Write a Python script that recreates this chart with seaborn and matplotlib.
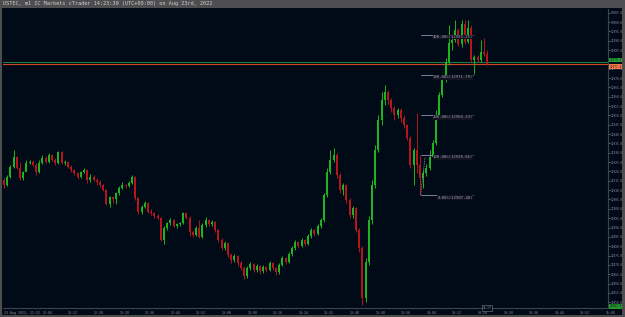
import numpy as np
import pandas as pd
import matplotlib
matplotlib.use("Agg")
import matplotlib.pyplot as plt
from matplotlib.patches import Rectangle
import seaborn as sns

# ---------------- data (USTEC m1 candles) ----------------
first_open = 12915.4
closes = [12912.8, 12917.0, 12922.4, 12927.8, 12921.9, 12916.5, 12919.7, 12924.5, 12925.1, 12923.5,
          12919.7, 12924.5, 12927.2, 12925.1, 12928.8, 12926.2, 12924.5, 12930.4, 12924.5, 12925.1,
          12922.4, 12920.8, 12919.2, 12917.0, 12919.7, 12920.8, 12915.4, 12917.0, 12915.4, 12914.4,
          12912.8, 12910.1, 12902.6, 12906.3, 12905.3, 12908.5, 12911.2, 12912.8, 12912.2, 12913.8,
          12917.0, 12905.8, 12898.3, 12901.0, 12903.1, 12898.3, 12897.8, 12896.2, 12895.1, 12883.3,
          12889.8, 12892.4, 12894.0, 12890.8, 12891.9, 12892.4, 12897.8, 12895.1, 12887.6, 12886.0,
          12889.8, 12884.9, 12891.4, 12894.0, 12891.9, 12893.0, 12888.7, 12883.3, 12879.0, 12881.7,
          12875.3, 12872.6, 12874.8, 12871.0, 12868.3, 12864.1, 12868.3, 12870.5, 12867.3, 12869.4,
          12866.7, 12868.9, 12867.3, 12871.0, 12868.3, 12866.2, 12869.9, 12873.7, 12871.6, 12875.8,
          12879.0, 12882.3, 12880.1, 12883.3, 12881.2, 12885.5, 12888.7, 12886.5, 12890.8, 12894.0,
          12907.4, 12919.7, 12926.2, 12928.8, 12918.1, 12910.1, 12912.8, 12904.7, 12896.7, 12900.5,
          12888.7, 12879.0, 12852.3, 12871.6, 12894.0, 12912.8, 12931.5, 12947.6, 12958.3, 12962.6,
          12958.3, 12954.0, 12950.2, 12952.9, 12948.6, 12944.9, 12937.9, 12923.5, 12931.5, 12923.5,
          12916.5, 12919.2, 12921.9, 12927.8, 12935.2, 12950.2, 12961.0, 12969.0, 12978.6, 12988.8,
          12990.4, 12995.7, 12988.2, 12999.0, 12989.3, 12996.8, 12979.7, 12981.3, 12979.7, 12984.0,
          12982.9, 12977.5]
highs = [12916.5, 12918.1, 12923.5, 12931.5, 12928.3, 12925.1, 12920.3, 12926.2, 12926.2, 12926.2,
         12924.5, 12926.2, 12928.8, 12928.3, 12929.9, 12929.4, 12927.2, 12931.0, 12931.0, 12926.2,
         12925.6, 12923.5, 12921.3, 12919.7, 12920.3, 12921.9, 12921.3, 12918.7, 12918.1, 12916.5,
         12915.4, 12913.3, 12910.6, 12906.9, 12906.9, 12909.0, 12912.2, 12914.4, 12913.3, 12914.9,
         12918.1, 12917.6, 12906.3, 12902.1, 12904.2, 12903.7, 12899.9, 12898.3, 12897.2, 12895.6,
         12890.8, 12893.0, 12895.1, 12894.6, 12892.4, 12893.0, 12898.3, 12898.3, 12896.2, 12888.7,
         12890.8, 12894.0, 12892.4, 12895.6, 12894.6, 12894.0, 12893.5, 12889.2, 12884.4, 12882.8,
         12882.3, 12876.4, 12875.8, 12875.3, 12872.1, 12869.4, 12869.4, 12871.6, 12871.0, 12870.5,
         12869.9, 12869.9, 12869.4, 12872.1, 12871.6, 12868.9, 12871.0, 12874.8, 12874.2, 12876.9,
         12880.1, 12883.3, 12882.8, 12884.4, 12883.9, 12886.5, 12889.8, 12889.2, 12891.9, 12895.1,
         12908.5, 12921.9, 12931.5, 12932.6, 12929.9, 12919.2, 12913.8, 12913.3, 12905.8, 12901.5,
         12901.0, 12889.8, 12880.1, 12873.7, 12896.2, 12915.4, 12934.2, 12950.2, 12962.6, 12966.3,
         12963.6, 12959.3, 12955.1, 12954.0, 12954.0, 12950.2, 12945.4, 12939.0, 12932.6, 12951.3,
         12928.8, 12920.8, 12924.0, 12931.5, 12936.9, 12952.9, 12962.6, 12971.1, 12980.8, 12998.4,
         12991.5, 13001.1, 12996.8, 13001.1, 13001.1, 13001.1, 12998.4, 12982.4, 12982.4, 12990.4,
         12991.5, 12985.0]
lows = [12911.2, 12912.2, 12916.5, 12921.9, 12921.3, 12915.4, 12915.4, 12920.3, 12924.0, 12922.9,
        12918.1, 12919.2, 12924.0, 12924.5, 12924.5, 12925.6, 12923.5, 12924.0, 12924.0, 12923.5,
        12921.9, 12919.7, 12918.1, 12916.0, 12916.5, 12919.2, 12913.8, 12914.4, 12914.9, 12912.8,
        12911.7, 12909.6, 12902.1, 12901.0, 12903.1, 12902.6, 12907.4, 12910.6, 12911.2, 12911.7,
        12913.3, 12904.7, 12897.2, 12897.2, 12900.5, 12897.8, 12896.7, 12895.1, 12894.6, 12882.8,
        12881.2, 12888.7, 12891.4, 12890.3, 12889.8, 12890.8, 12891.9, 12894.6, 12885.5, 12884.9,
        12885.5, 12884.4, 12884.4, 12890.3, 12890.8, 12890.8, 12887.6, 12882.3, 12878.0, 12878.0,
        12874.2, 12871.0, 12871.6, 12869.4, 12867.3, 12862.5, 12863.0, 12867.3, 12866.2, 12866.2,
        12865.1, 12865.7, 12866.2, 12866.7, 12867.3, 12864.6, 12865.1, 12869.4, 12870.5, 12871.0,
        12874.8, 12878.0, 12879.0, 12879.6, 12880.1, 12880.7, 12884.4, 12885.5, 12886.0, 12889.8,
        12893.0, 12906.3, 12918.7, 12925.1, 12916.5, 12908.5, 12907.4, 12903.1, 12895.1, 12895.1,
        12887.6, 12876.9, 12848.5, 12850.1, 12870.0, 12891.9, 12911.2, 12930.4, 12944.9, 12955.6,
        12956.1, 12951.9, 12947.6, 12948.6, 12946.5, 12943.3, 12936.9, 12921.9, 12912.8, 12919.2,
        12907.4, 12911.2, 12917.6, 12920.8, 12927.2, 12934.2, 12948.6, 12959.9, 12967.9, 12977.0,
        12985.0, 12989.3, 12987.2, 12986.6, 12988.2, 12988.8, 12978.6, 12972.2, 12978.6, 12978.6,
        12981.8, 12977.0]

fib_pcts = ["0.00%", "100.00%", "200.00%", "300.00%", "400.00%"]
fib_prices = [12907.40, 12928.86, 12950.33, 12971.79, 12993.25]
bid_price = 12978.4
ask_price = 12977.4
low_marker_price = 12847.8

tick_idx = [0] + list(range(12, 189, 8))
tick_labels = ["23 Aug 2022, 11:52"] + ["12:04", "12:12", "12:20", "12:28", "12:36", "12:44", "12:52",
               "13:00", "13:08", "13:16", "13:24", "13:32", "13:40", "13:48", "13:56", "14:04",
               "14:12", "14:20", "14:28", "14:36", "14:44", "14:52", "15:00"]
now_label = "14:23"

title_text = "USTEC, m1 IC Markets cTrader 14:23:39 (UTC+00:00) on Aug 23rd, 2022"

# ---------------- style ----------------
sns.set_theme(style="dark")
plt.rcParams['font.family'] = ['DejaVu Sans Mono', 'DejaVu Sans']

BG = '#010a17'
FRAME = '#4e4e50'
AXC = '#3b4352'
TXT = '#8c919c'
GREEN = '#1db41d'
RED = '#b8141b'

W, H = 625, 317
fig = plt.figure(figsize=(W / 100, H / 100), dpi=100, facecolor=FRAME)
fig.patches.append(Rectangle((2 / W, 2 / H), 620 / W, 307 / H, transform=fig.transFigure,
                             facecolor=BG, edgecolor='none', zorder=-5))
fig.text(3 / W, 1 - 4 / H, title_text, color='#cfcfcf', fontsize=3.75, va='center', ha='left',
         family=['DejaVu Sans Mono'])

ax = fig.add_axes([3 / W, 1 - 308 / H, 605 / W, 299 / H])
ax.set_zorder(2)
ax.set_facecolor(BG)

df = pd.DataFrame({"close": closes, "high": highs, "low": lows})
df["open"] = [first_open] + closes[:-1]
df["i"] = np.arange(len(df))
up = df["close"] >= df["open"]
cols = np.where(up, GREEN, RED)
body_lo = df[["open", "close"]].min(axis=1)
body_h = (df["close"] - df["open"]).abs().clip(lower=0.45)

ax.vlines(df["i"], df["low"], df["high"], colors=cols, linewidth=0.7, zorder=2)
ax.bar(df["i"], body_h, bottom=body_lo, width=0.64, color=cols, linewidth=0, zorder=3)

# bid / ask lines
ax.axhline(bid_price, color='#1d7a3c', lw=0.8, zorder=1)
ax.axhline(ask_price, color='#d4452b', lw=0.8, zorder=1)

# fibonacci expansion
fx0, fx1 = 130.2, 146.6
for pct, pr in zip(fib_pcts, fib_prices):
    ax.plot([fx0, fx1], [pr, pr], color='#80809e', lw=0.7, zorder=4)
    ax.text(fx1, pr - 0.3, f"{pct}({pr:.2f})", color='#a4a4bf', fontsize=2.8,
            ha='right', va='top', zorder=5,
            bbox=dict(boxstyle='square,pad=0.05', facecolor='#11141f', edgecolor='none'))
ax.plot([fx0, 131.6], [fib_prices[0], 12927.8], color='#9a9ab4', lw=0.6, ls=(0, (1, 1)), zorder=4)

ax.set_xlim(-0.3, 188.75)
ax.set_ylim(12846.9, 13007.0)

# axes styling
for s in ["top", "left"]:
    ax.spines[s].set_visible(False)
for s in ["right", "bottom"]:
    ax.spines[s].set_color(AXC)
    ax.spines[s].set_linewidth(0.8)
ax.yaxis.tick_right()
yt = np.arange(12850, 13006, 5)
ax.set_yticks(yt)
ax.set_yticklabels([f"{v:.1f}" for v in yt])
ax.set_xticks(tick_idx)
ax.set_xticklabels(tick_labels, ha='left')
ax.tick_params(axis='x', labelsize=2.3, colors=TXT, length=1.5, width=0.5, pad=1)
ax.tick_params(axis='y', labelsize=2.1, colors=TXT, length=1.2, width=0.5, pad=0.6)
ax.grid(False)

# price labels on the right axis
ytr = ax.get_yaxis_transform()
ax.text(1.003, bid_price + 1.3, f"{bid_price:.1f}", transform=ytr, fontsize=2.1, color='#06230c',
        ha='left', va='center', clip_on=False, zorder=6,
        bbox=dict(boxstyle='square,pad=0.12', facecolor='#27a33a', edgecolor='none'))
ax.text(1.003, ask_price - 1.3, f"{ask_price:.1f}", transform=ytr, fontsize=2.1, color='#3a0d05',
        ha='left', va='center', clip_on=False, zorder=7,
        bbox=dict(boxstyle='square,pad=0.12', facecolor='#f07a4e', edgecolor='none'))
ax.text(1.003, low_marker_price, f"{low_marker_price:.1f}", transform=ytr, fontsize=2.1,
        color='#06230c', ha='left', va='center', clip_on=False, zorder=7,
        bbox=dict(boxstyle='square,pad=0.12', facecolor='#23962f', edgecolor='none'))

# current-time marker on the time axis
xtr = ax.get_xaxis_transform()
ax.text(df["i"].iloc[-1], 0.0, now_label, transform=xtr, fontsize=2.1, color=TXT,
        ha='center', va='center', clip_on=False, zorder=7,
        bbox=dict(boxstyle='square,pad=0.2', facecolor=BG, edgecolor='#7a7f8a', linewidth=0.4))

fig.savefig("out.png", dpi=100, facecolor=FRAME)
